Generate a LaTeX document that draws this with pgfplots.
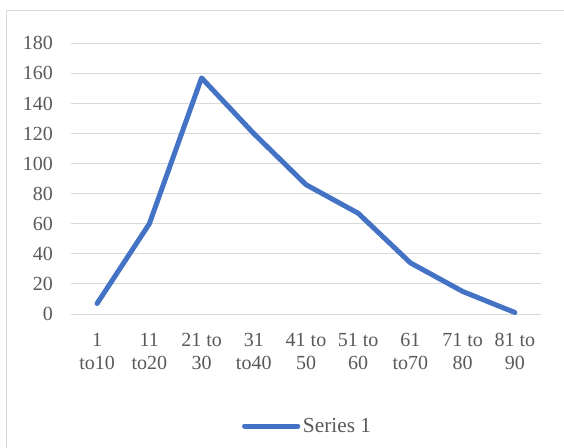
\documentclass[border=0pt]{standalone}
\usepackage{fontspec}
\setmainfont{Liberation Serif}
\usepackage{pgfplots}
\pgfplotsset{compat=1.18}
\definecolor{excelblue}{HTML}{4472C4}
\definecolor{gridgray}{HTML}{D9D9D9}
\definecolor{textgray}{HTML}{595959}
\begin{document}
\begin{tikzpicture}
\useasboundingbox (-53.25pt,-99.75pt) rectangle (369.75pt,235.5pt);
\draw[gridgray, line width=0.75pt] (-48pt,-110pt) -- (-48pt,227.25pt) -- (380pt,227.25pt);
\begin{axis}[
  at={(0,0)}, anchor=south west,
  scale only axis, width=352.5pt, height=203pt,
  xmin=-0.5, xmax=8.5, ymin=0, ymax=180,
  ytick={0,20,...,180},
  xtick={0,...,8},
  xticklabels={{1\\to10},{11\\to20},{21 to\\30},{31\\to40},{41 to\\50},{51 to\\60},{61\\to70},{71 to\\80},{81 to\\90}},
  axis line style={draw=none},
  tick style={draw=none},
  ymajorgrids,
  grid style={gridgray, line width=0.75pt},
  clip=false,
  /pgf/number format/assume math mode=true,
  tick label style={font=\fontsize{15}{17.25}\selectfont, text=textgray},
  x tick label style={align=center, yshift=-11pt},
  y tick label style={xshift=-10pt},
  legend style={at={(0.504,-0.414)}, anchor=center, draw=none, fill=none,
    font=\fontsize{16}{18}\selectfont, text=textgray, inner xsep=1pt},
  legend image code/.code={\draw[#1] (0pt,0pt) -- (40pt,0pt);},
]
\addplot[excelblue, line width=3.75pt, line cap=round, line join=round] coordinates {
  (0,7) (1,60) (2,157) (3,120) (4,86) (5,67) (6,34) (7,15) (8,1)
};
\addlegendentry{Series 1}
\end{axis}
\end{tikzpicture}
\end{document}
